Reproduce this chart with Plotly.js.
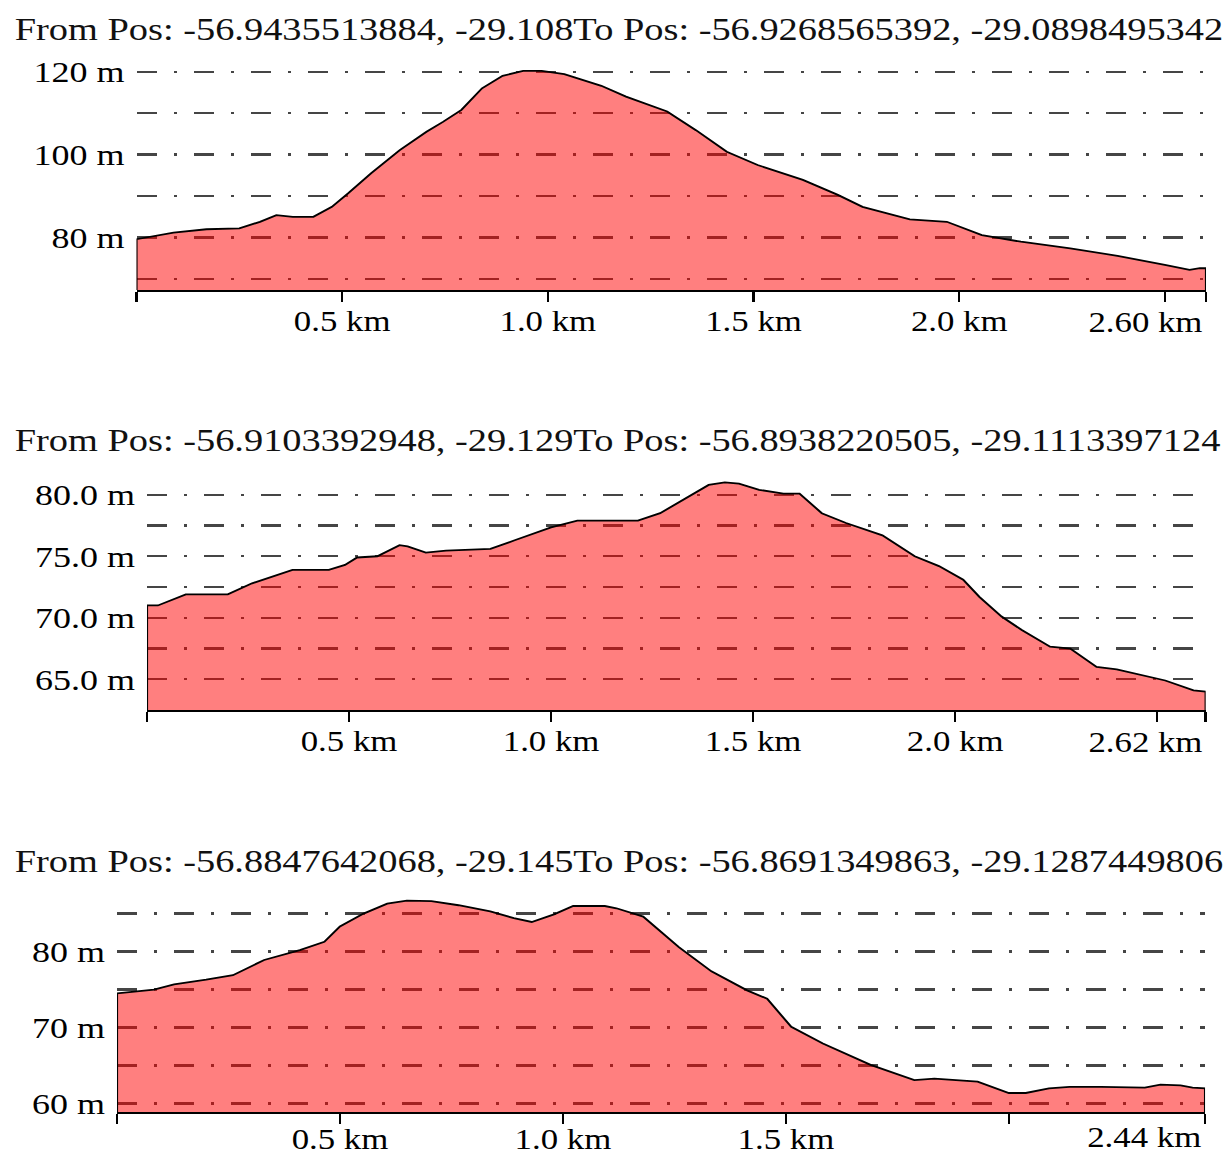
<!DOCTYPE html>
<html><head><meta charset="utf-8">
<script src="https://cdn.plot.ly/plotly-3.0.1.min.js"></script>
<style>
html,body{margin:0;padding:0;background:#fff;overflow:hidden}
#wrap{width:1020px;height:1154px;transform:scaleX(1.2);transform-origin:0 0}
</style></head><body><div id="wrap"><div id="chart"></div></div>
<script>
// ---- data ----
const titles = [
  "From Pos: -56.9435513884, -29.108To Pos: -56.9268565392, -29.0898495342",
  "From Pos: -56.9103392948, -29.129To Pos: -56.8938220505, -29.1113397124",
  "From Pos: -56.8847642068, -29.145To Pos: -56.8691349863, -29.1287449806"
];
const endLabels = ["2.60 km", "2.62 km", "2.44 km"];

const dist1 = [0, 0.09, 0.17, 0.25, 0.30, 0.34, 0.38, 0.43, 0.475, 0.515, 0.57, 0.64, 0.705, 0.745, 0.79, 0.84, 0.89, 0.94, 0.985, 1.04, 1.13, 1.19, 1.29, 1.36, 1.435, 1.51, 1.62, 1.705, 1.765, 1.88, 1.97, 2.055, 2.15, 2.27, 2.385, 2.50, 2.56, 2.585, 2.60];
const elev1 = [79.6, 81.2, 82.0, 82.2, 83.8, 85.4, 85.0, 85.0, 87.4, 90.7, 95.5, 101.1, 105.5, 107.9, 110.8, 116.0, 119.0, 120.2, 120.2, 119.4, 116.6, 114.0, 110.4, 105.9, 100.7, 97.5, 93.9, 90.3, 87.4, 84.4, 83.8, 80.6, 79.0, 77.4, 75.6, 73.4, 72.2, 72.6, 72.6];

const dist2 = [0, 0.027, 0.096, 0.20, 0.26, 0.36, 0.45, 0.49, 0.52, 0.57, 0.625, 0.645, 0.69, 0.74, 0.79, 0.85, 0.91, 1.00, 1.065, 1.17, 1.215, 1.27, 1.34, 1.39, 1.43, 1.465, 1.515, 1.575, 1.615, 1.67, 1.73, 1.82, 1.90, 1.96, 2.02, 2.06, 2.115, 2.165, 2.235, 2.285, 2.35, 2.40, 2.52, 2.59, 2.62];
const elev2 = [71.0, 71.0, 71.9, 71.9, 72.8, 73.9, 73.9, 74.3, 74.9, 75.0, 75.9, 75.8, 75.3, 75.45, 75.5, 75.6, 76.3, 77.35, 77.9, 77.9, 77.9, 78.5, 79.8, 80.8, 81.0, 80.9, 80.4, 80.1, 80.1, 78.5, 77.7, 76.7, 75.0, 74.2, 73.1, 71.7, 70.1, 69.0, 67.65, 67.5, 66.0, 65.8, 64.9, 64.1, 64.0];

const dist3 = [0, 0.083, 0.128, 0.20, 0.26, 0.33, 0.41, 0.465, 0.50, 0.553, 0.606, 0.65, 0.705, 0.766, 0.837, 0.89, 0.93, 0.98, 1.023, 1.094, 1.12, 1.18, 1.26, 1.333, 1.413, 1.458, 1.512, 1.583, 1.69, 1.788, 1.833, 1.93, 2.0, 2.038, 2.09, 2.136, 2.207, 2.305, 2.34, 2.385, 2.412, 2.44];
const elev3 = [74.5, 75.0, 75.7, 76.3, 76.9, 78.9, 80.2, 81.3, 83.3, 85.0, 86.3, 86.7, 86.65, 86.1, 85.3, 84.4, 83.9, 84.9, 86.0, 86.0, 85.7, 84.6, 80.6, 77.4, 74.9, 73.8, 70.1, 67.9, 65.1, 63.1, 63.3, 62.9, 61.4, 61.4, 62.0, 62.2, 62.2, 62.1, 62.5, 62.4, 62.1, 62.0];

const xTicks1 = [0, 0.5, 1.0, 1.5, 2.0, 2.5, 2.60];
const xText1  = ["", "0.5 km", "1.0 km", "1.5 km", "2.0 km", "", ""];
const xTicks2 = [0, 0.5, 1.0, 1.5, 2.0, 2.5, 2.62];
const xText2  = ["", "0.5 km", "1.0 km", "1.5 km", "2.0 km", "", ""];
const xTicks3 = [0, 0.5, 1.0, 1.5, 2.0, 2.44];
const xText3  = ["", "0.5 km", "1.0 km", "1.5 km", "", ""];

const yTicks1 = [70, 80, 90, 100, 110, 120];
const yText1  = ["", "80 m", "", "100 m", "", "120 m"];
const yTicks2 = [62.5, 65, 67.5, 70, 72.5, 75, 77.5, 80];
const yText2  = ["", "65.0 m", "", "70.0 m", "", "75.0 m", "", "80.0 m"];
const yTicks3 = [60, 65, 70, 75, 80, 85];
const yText3  = ["60 m", "", "70 m", "", "80 m", ""];

const yRanges = [[67.35, 121.5], [62.5, 81.2], [58.9, 87.0]];

// ---- layout geometry (plot units; page is stretched 1.2x horizontally) ----
const W = 1020, H = 1154;
const xDom = [[113.75 / W, 1005 / W], [122.5 / W, 1004.7 / W], [97.5 / W, 1004.2 / W]];
const yPix = [[65.5, 290], [480, 710], [898.4, 1112]];
const yDom = yPix.map(p => [(H - p[1]) / H, (H - p[0]) / H]);
const titleY = [29, 440, 861];
const xLabelStandoff = [-6, -6, -10];
const endLabelShift = [-14, -14, -7];

const FONT = "'Liberation Serif', 'Times New Roman', serif";
const gridStyle = {showgrid: true, gridcolor: "#454545", gridwidth: 2.4, griddash: "17px,14px,2.5px,14px"};

const panels = [
  {d: dist1, e: elev1, xt: xTicks1, xx: xText1, yt: yTicks1, yx: yText1},
  {d: dist2, e: elev2, xt: xTicks2, xx: xText2, yt: yTicks2, yx: yText2},
  {d: dist3, e: elev3, xt: xTicks3, xx: xText3, yt: yTicks3, yx: yText3}
];

const traces = [];
const layout = {
  width: W, height: H, margin: {l: 0, r: 0, t: 0, b: 0},
  paper_bgcolor: "#fff", plot_bgcolor: "rgba(0,0,0,0)",
  showlegend: false, annotations: [], font: {family: FONT, color: "#000"}
};

panels.forEach((p, i) => {
  const n = i + 1;
  const xa = "x" + (n === 1 ? "" : n), ya = "y" + (n === 1 ? "" : n);
  const base = yRanges[i][0];
  const last = p.d[p.d.length - 1];
  traces.push({
    type: "scatter", mode: "lines", xaxis: xa, yaxis: ya,
    x: [p.d[0]].concat(p.d, [last]),
    y: [base].concat(p.e, [base]),
    fill: "toself", fillcolor: "rgba(255,0,0,0.5)",
    line: {color: "#000", width: 1.8}, hoverinfo: "skip"
  });
  layout["xaxis" + (n === 1 ? "" : n)] = {
    domain: xDom[i], anchor: ya, range: [0, last],
    tickmode: "array", tickvals: p.xt, ticktext: p.xx,
    ticks: "outside", ticklen: 10, tickwidth: 2, tickcolor: "#000",
    showline: true, linecolor: "#000", linewidth: 2,
    showgrid: false, zeroline: false, ticklabelstandoff: xLabelStandoff[i],
    tickfont: {family: FONT, size: 29, color: "#000"}
  };
  layout["yaxis" + (n === 1 ? "" : n)] = Object.assign({
    domain: yDom[i], anchor: xa, range: yRanges[i],
    tickmode: "array", tickvals: p.yt, ticktext: p.yx,
    ticks: "", showline: false, zeroline: false, ticklabelstandoff: 9,
    tickfont: {family: FONT, size: 30, color: "#000"}
  }, gridStyle);
  layout.annotations.push({
    text: titles[i], xref: "paper", yref: "paper",
    x: 10 / W, y: (H - titleY[i]) / H, xanchor: "left", yanchor: "middle",
    showarrow: false, font: {family: FONT, size: 32, color: "#111"}
  });
  layout.annotations.push({
    text: endLabels[i], xref: xa, yref: "paper",
    x: last, y: yDom[i][0], xanchor: "right", yanchor: "top", yshift: endLabelShift[i],
    showarrow: false, font: {family: FONT, size: 29, color: "#000"}
  });
});

Plotly.newPlot("chart", traces, layout, {staticPlot: true, displayModeBar: false});
</script></body></html>
